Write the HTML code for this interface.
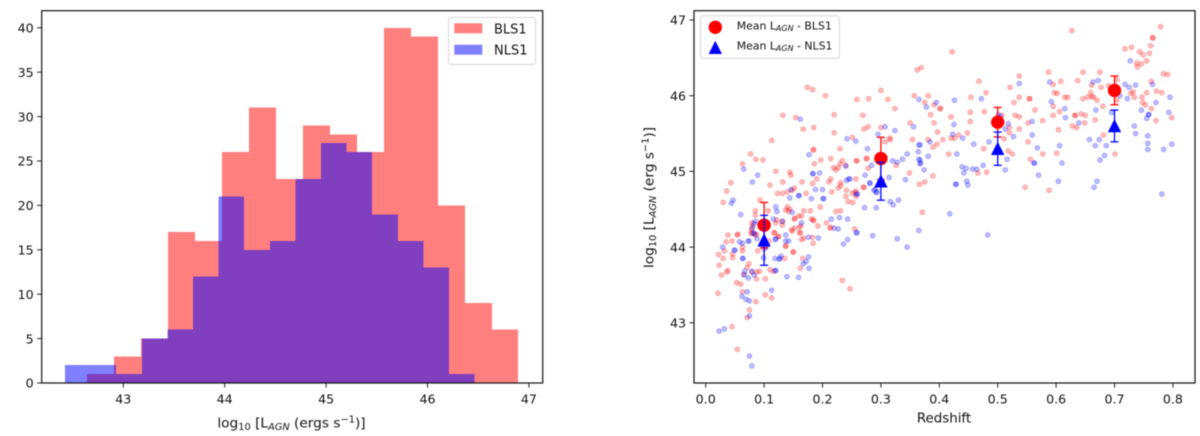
<!DOCTYPE html>
<html lang="en">
<head>
<meta charset="utf-8">
<title>AGN luminosity histogram and redshift scatter</title>
<style>
html,body{margin:0;padding:0;background:#fff;width:1200px;height:436px;overflow:hidden}
svg{display:block;filter:blur(0.5px)}
text{font-family:"DejaVu Sans","Liberation Sans",sans-serif;fill:#111}
</style>
</head>
<body>
<svg id="figure" xmlns="http://www.w3.org/2000/svg" width="1200" height="436" viewBox="0 0 1200 436">
  <rect width="1200" height="436" fill="#fff"/>
  <g id="hist-marks"></g>
  <g id="hist-axes"></g>
  <text x="291.5" y="427.5" font-size="13.7" text-anchor="middle">log<tspan font-size="9.8" dy="2.5">10</tspan><tspan dy="-2.5"> [L</tspan><tspan font-size="9.8" font-style="italic" dy="2.5">AGN</tspan><tspan dy="-2.5"> (ergs s</tspan><tspan font-size="9.8" dy="-5">−1</tspan><tspan dy="5">)]</tspan></text>
  <g>
    <rect x="448.5" y="17.5" width="87" height="47" rx="2.5" fill="#fff" fill-opacity="0.8" stroke="#d6d6d6" stroke-width="1"/>
    <rect x="454.3" y="23.3" width="28" height="10" fill="#ff8080"/>
    <text x="494" y="33.7" font-size="13">BLS1</text>
    <rect x="454.3" y="44.7" width="28" height="10" fill="#8080ff"/>
    <text x="494" y="54.7" font-size="13">NLS1</text>
  </g>
  <g id="scatter-marks"></g>
  <g id="mean-marks"></g>
  <g id="scatter-axes"></g>
  <text x="944" y="422.5" font-size="13.4" text-anchor="middle">Redshift</text>
  <text transform="translate(653.5,197.5) rotate(-90)" font-size="13.7" text-anchor="middle">log<tspan font-size="9.8" dy="2.5">10</tspan><tspan dy="-2.5"> [L</tspan><tspan font-size="9.8" font-style="italic" dy="2.5">AGN</tspan><tspan dy="-2.5"> (erg s</tspan><tspan font-size="9.8" dy="-5">−1</tspan><tspan dy="5">)]</tspan></text>
  <g>
    <rect x="700.5" y="15.7" width="139" height="42.6" rx="2.5" fill="#fff" fill-opacity="0.8" stroke="#d6d6d6" stroke-width="1"/>
    <circle cx="715.3" cy="27.3" r="6.7" fill="#ff0000"/>
    <text x="736.7" y="29.5" font-size="10.9">Mean L<tspan font-size="8" font-style="italic" dy="1.5">AGN</tspan><tspan dy="-1.5"> - BLS1</tspan></text>
    <polygon points="715.3,40.7 722,54 708.6,54" fill="#0000ff"/>
    <text x="736.7" y="49.5" font-size="10.9">Mean L<tspan font-size="8" font-style="italic" dy="1.5">AGN</tspan><tspan dy="-1.5"> - NLS1</tspan></text>
  </g>
</svg>
<script>
var blsEdges = [42.642,42.908,43.175,43.441,43.707,43.973,44.24,44.506,44.772,45.038,45.305,45.571,45.837,46.103,46.37,46.636,46.892];
var blsCounts = [1,3,5,17,16,26,31,23,29,28,26,40,39,20,9,6];
var nlsEdges = [42.425,42.678,42.93,43.182,43.435,43.687,43.94,44.192,44.445,44.697,44.95,45.202,45.455,45.707,45.96,46.212,46.465];
var nlsCounts = [2,2,1,5,6,12,21,15,16,23,27,26,19,16,13,1];
var histXTicks = [43,44,45,46,47];
var histYTicks = [0,5,10,15,20,25,30,35,40];
var scatterXTicks = [0,0.1,0.2,0.3,0.4,0.5,0.6,0.7,0.8];
var scatterXLabels = ["0.0","0.1","0.2","0.3","0.4","0.5","0.6","0.7","0.8"];
var scatterYTicks = [43,44,45,46,47];

var meanRedshift = [0.1,0.3,0.5,0.7];
var meanBls = [44.29,45.17,45.65,46.07];
var meanBlsErr = [0.3,0.28,0.195,0.19];
var meanNls = [44.09,44.87,45.3,45.6];
var meanNlsErr = [0.33,0.25,0.22,0.21];

var blsPoints = [
[.021,43.39],[.045,42.95],[.054,42.65],[.071,43.07],[.075,43.17],[.086,43.28],[.102,43.37],[.113,43.33],[.053,43.53],[.06,43.51],[.063,43.41],[.027,43.63],[.036,43.67],[.038,43.69],[.023,43.76],[.03,43.85],[.022,43.9],[.032,43.95],[.046,43.86],[.046,43.91],[.063,43.95],[.035,44.07],[.045,44.08],[.038,44.16],[.054,44.16],[.074,43.78],[.071,43.73],[.065,43.64],[.079,43.67],[.087,43.58],[.087,43.67],[.092,43.68],[.102,43.58],[.11,43.7],[.116,43.68],[.135,43.85],[.15,43.93],[.166,43.85],[.162,43.72],[.234,43.56],[.247,43.45],[.089,43.95],[.137,44.01],[.148,44.21],[.152,44.25],[.162,44.19],[.168,44.12],[.184,44.05],[.183,44.13],[.192,44.28],[.207,44.32],[.213,44.25],[.255,44.24],[.185,44.35],[.181,44.37],[.152,44.37],[.163,44.28],[.117,44.19],[.124,44.14],[.12,44.32],[.122,44.36],[.131,44.29],[.079,44.32],[.078,44.23],[.078,44.19],[.087,44.17],[.096,44.3],
[.08,44.28],[.085,44.16],[.079,44.18],[.055,44.17],[.063,44.0],[.099,43.98],[.108,44.08],
[.077,45.23],[.086,45.16],[.098,45.15],[.063,45.1],[.043,44.85],[.036,44.74],[.03,44.59],[.12,45.0],[.11,44.82],[.132,44.86],[.144,44.99],[.146,44.95],[.152,44.78],[.148,44.75],[.14,44.73],[.132,44.71],[.123,44.71],[.165,44.86],[.172,44.71],[.19,44.9],[.183,44.84],[.186,45.1],[.197,45.15],[.214,45.17],[.184,45.28],[.219,45.05],[.223,45.02],[.227,45.05],[.23,45.1],[.234,45.14],[.24,45.08],[.258,45.14],[.275,45.17],[.211,44.86],[.214,44.9],[.231,44.85],[.231,44.81],[.227,44.78],[.216,44.73],[.257,44.9],[.241,44.75],[.27,44.79],[.256,44.72],[.251,44.71],[.24,44.67],[.244,44.6],[.252,44.59],[.196,44.53],[.179,44.48],[.168,44.48],[.164,44.41],[.159,44.41],[.152,44.38],[.14,44.53],[.137,44.49],[.142,44.47],[.144,44.5],[.093,44.62],[.085,44.48],[.085,44.42],[.107,44.48],[.223,44.47],[.231,44.48],[.184,44.36],[.214,44.26],[.132,44.34],[.147,44.23],[.16,44.26],[.161,44.19],[.164,44.1],[.118,44.19],[.125,44.14],[.137,44.02],[.15,43.94],
[.174,46.11],[.183,46.08],[.205,46.0],[.3,46.07],[.279,45.96],[.259,45.95],[.312,45.95],[.324,45.83],[.357,46.0],[.362,46.34],[.132,45.74],[.154,45.71],[.167,45.56],[.185,45.58],[.22,45.75],[.269,45.74],[.271,45.56],[.278,45.59],[.3,45.58],[.22,45.51],[.113,45.41],[.251,45.45],[.35,45.64],[.354,45.42],[.316,45.42],[.315,45.44],[.307,45.39],[.185,45.29],[.23,45.3],[.276,45.17],[.259,45.14],[.278,45.04],[.326,45.08],[.349,44.98],[.366,44.83],[.258,44.67],[.271,44.79],[.257,44.74],
[.627,46.86],[.422,46.58],[.779,46.91],[.765,46.77],[.766,46.76],[.762,46.66],[.718,46.62],[.729,46.64],[.743,46.58],[.749,46.54],[.76,46.56],[.755,46.46],[.738,46.43],[.746,46.42],[.739,46.38],[.369,46.37],[.784,46.29],[.791,46.28],[.537,46.26],[.587,46.31],[.646,46.31],[.675,46.31],[.637,46.2],[.608,46.19],[.595,46.15],[.468,46.19],[.763,46.19],[.521,46.11],[.661,46.14],[.677,46.11],[.704,46.21],[.69,46.13],[.659,46.04],[.48,46.04],[.597,46.04],[.602,46.03],[.732,46.05],[.728,46.03],[.755,46.04],[.772,46.06],[.781,46.04],[.381,46.0],[.454,45.98],[.537,45.98],[.554,45.96],[.555,45.96],[.615,45.98],[.62,45.98],[.646,45.96],[.654,45.98],[.661,45.99],[.664,45.98],[.67,45.94],[.734,45.98],[.747,45.98],[.704,45.94],[.375,45.91],[.391,45.88],[.401,45.83],[.402,45.83],[.528,45.91],[.748,45.91],[.753,45.88],[.595,45.86],[.564,45.81],[.763,45.83],[.68,45.86],[.453,45.78],[.477,45.79],[.606,45.79],[.385,45.75],[.42,45.72],[.53,45.74],[.537,45.72],[.595,45.74],[.632,45.74],[.633,45.74],[.643,45.76],[.65,45.74],[.798,45.71],[.507,45.74],[.453,45.66],[.391,45.64],[.552,45.64],[.577,45.67],[.667,45.68],[.771,45.67],[.649,45.64],[.628,45.6],[.635,45.58],[.52,45.58],[.537,45.56],[.604,45.55],[.52,45.51],[.397,45.52],[.448,45.51],[.433,45.48],[.426,45.44],[.42,45.44],[.406,45.42],[.381,45.42],[.396,45.36],[.389,45.32],[.511,45.43],[.552,45.39],[.681,45.48],[.476,45.3],[.518,45.27],[.525,45.23],[.556,45.16],[.577,45.23],[.601,45.24],[.416,45.23],[.701,45.23],[.389,44.94],[.481,44.99],[.466,44.98],[.375,44.86],[.371,44.46],[.547,44.79],[.588,44.75]
];

var nlsPoints = [
[.023,42.89],[.032,42.92],[.075,42.56],[.079,42.43],[.075,43.09],[.113,43.43],[.062,43.35],[.069,43.31],[.075,43.29],[.071,43.41],[.139,43.61],[.159,43.6],[.177,43.72],[.167,43.78],[.172,43.81],[.176,43.87],[.119,43.85],[.126,43.84],[.129,43.88],[.119,43.69],[.12,43.69],[.099,43.86],[.063,43.85],[.064,43.85],[.029,44.0],[.058,44.07],[.063,44.05],[.049,43.96],[.05,43.96],[.073,44.08],[.074,44.08],[.067,43.68],[.066,43.63],[.073,43.59],[.083,43.63],[.079,43.68],[.119,44.1],[.12,44.11],[.137,44.16],[.137,44.08],[.142,44.08],[.176,44.13],[.193,44.12],[.236,44.04],[.243,44.1],[.259,44.19],[.22,44.25],[.227,44.24],[.082,44.18],[.083,44.18],[.08,44.25],[.085,44.34],[.097,44.32],[.116,44.37],[.131,44.34],[.164,44.32],[.215,44.37],[.229,44.39],[.243,44.37],[.088,44.11],[.103,43.99],[.365,44.22],[.286,44.15],[.328,44.11],[.345,44.0],[.483,44.16],
[.177,45.22],[.065,45.03],[.089,44.95],[.08,44.86],[.183,44.97],[.184,44.97],[.195,44.98],[.188,44.76],[.2,44.76],[.159,44.68],[.16,44.68],[.144,44.65],[.146,44.76],[.181,44.64],[.201,44.64],[.202,44.64],[.24,45.07],[.245,44.9],[.241,44.88],[.258,44.7],[.273,44.95],[.284,45.08],[.314,44.92],[.281,44.85],[.29,44.76],[.293,44.73],[.272,44.52],[.292,44.52],[.316,44.6],[.321,44.56],[.33,44.62],[.047,44.62],[.044,44.58],[.06,44.43],[.12,44.53],[.122,44.47],[.148,44.46],
[.083,44.31],
[.162,45.69],[.242,45.43],[.257,45.4],[.295,45.49],[.307,45.59],[.324,45.54],[.356,45.59],[.365,45.95],[.277,45.3],[.337,45.16],[.345,45.23],[.365,45.35],[.364,45.26],[.328,45.12],[.32,45.14],[.368,45.11],[.365,45.16],[.342,44.89],[.247,44.9],
[.727,46.46],[.672,46.2],[.663,46.18],[.589,46.18],[.537,46.16],[.718,46.15],[.725,46.11],[.736,46.14],[.765,46.15],[.472,45.96],[.395,45.91],[.426,45.94],[.378,45.85],[.592,45.92],[.722,45.96],[.709,46.0],[.705,46.05],[.706,46.05],[.795,45.98],[.771,45.91],[.615,45.83],[.668,45.81],[.746,45.81],[.616,45.71],[.758,45.75],[.759,45.75],[.755,45.7],[.793,45.78],[.695,45.78],[.559,45.66],[.639,45.64],[.425,45.62],[.734,45.6],[.736,45.5],[.757,45.47],[.757,45.37],[.757,45.29],[.423,45.49],[.44,45.44],[.459,45.36],[.485,45.39],[.501,45.75],[.505,45.72],[.518,45.63],[.513,45.56],[.527,45.46],[.559,45.48],[.657,45.42],[.674,45.42],[.667,45.34],[.686,45.34],[.798,45.36],[.784,45.29],[.606,45.34],[.568,45.31],[.516,45.16],[.562,45.11],[.563,45.11],[.61,45.11],[.683,45.21],[.675,45.15],[.57,44.95],[.513,45.02],[.475,45.08],[.439,45.06],[.446,45.04],[.457,45.03],[.464,45.03],[.442,44.98],[.447,44.87],[.449,44.82],[.428,44.83],[.429,44.83],[.381,45.2],[.367,45.15],[.367,45.1],[.374,45.02],[.43,45.23],[.367,45.35],[.604,44.87],[.67,44.87],[.665,44.79],[.781,44.7],[.418,44.44],[.384,45.39],[.288,44.75],[.292,44.72],[.281,44.84],[.26,44.7],
[.258,44.19],[.127,43.85]
];

var NS = 'http://www.w3.org/2000/svg';
function make(tag, attrs, parent) {
  var el = document.createElementNS(NS, tag);
  for (var k in attrs) { el.setAttribute(k, attrs[k]); }
  parent.appendChild(el);
  return el;
}

/* axis functions */
function histX(v) { return 123.3 + (v - 43) * 101.4; }
function histY(v) { return 383 - v * 8.88; }
function scatX(v) { return 705.7 + v * 584; }
function scatY(v) { return 20 + (47 - v) * 75.7; }

var histMarks = document.getElementById('hist-marks');
var histAxes = document.getElementById('hist-axes');
var scatterMarks = document.getElementById('scatter-marks');
var meanMarks = document.getElementById('mean-marks');
var scatterAxes = document.getElementById('scatter-axes');

blsCounts.forEach(function (count, i) {
  var bar = make('rect', {x: histX(blsEdges[i]), y: histY(count), width: histX(blsEdges[i + 1]) - histX(blsEdges[i]), height: histY(0) - histY(count), fill: '#ff0000', 'fill-opacity': 0.5, 'shape-rendering': 'crispEdges'}, histMarks);
  
  
});
nlsCounts.forEach(function (count, i) {
  var bar = make('rect', {x: histX(nlsEdges[i]), y: histY(count), width: histX(nlsEdges[i + 1]) - histX(nlsEdges[i]), height: histY(0) - histY(count), fill: '#0000ff', 'fill-opacity': 0.5, 'shape-rendering': 'crispEdges'}, histMarks);
  
  
});

function drawFrame(parent, left, right, top, bottom) {
  var frame = make('rect', {x: left, y: top, width: right - left, height: bottom - top, fill: 'none', stroke: '#111', 'stroke-width': 1.2}, parent);
  
  
}
function xTick(parent, px, label) {
  var tick = make('line', {x1: px, x2: px, y1: 383, y2: 387.6, stroke: '#222', 'stroke-width': 1}, parent);
  
  
  var text = make('text', {x: px, y: 403.6, 'font-size': 12.6, 'text-anchor': 'middle'}, parent);
  text.textContent = label;
  
  
}
function yTick(parent, px, axisLeft, label) {
  var tick = make('line', {x1: axisLeft - 4.6, x2: axisLeft, y1: px, y2: px, stroke: '#222', 'stroke-width': 1}, parent);
  
  
  var text = make('text', {x: axisLeft - 8, y: px + 4.7, 'font-size': 12.6, 'text-anchor': 'end'}, parent);
  text.textContent = label;
  
  
}

drawFrame(histAxes, 41.7, 542.7, 10.7, 383);
histXTicks.forEach(function (t) { xTick(histAxes, histX(t), String(t)); });
histYTicks.forEach(function (t) { yTick(histAxes, histY(t), 41.7, String(t)); });

function drawPoints(points, color, name) {
  points.forEach(function (p) {
    var dot = make('circle', {cx: scatX(p[0]), cy: scatY(p[1]), r: 2.3, fill: color, 'fill-opacity': 0.24, stroke: color, 'stroke-opacity': 0.3, 'stroke-width': 1}, scatterMarks);
    
    
  });
}
drawPoints(blsPoints, '#ff0000', 'bls1-scatter-point');
drawPoints(nlsPoints, '#0000ff', 'nls1-scatter-point');

function drawError(z, value, err, color, name) {
  var g = make('g', {stroke: color, 'stroke-width': 1.3, fill: 'none'}, meanMarks);
  
  
  var cx = scatX(z), top = scatY(value + err), bottom = scatY(value - err);
  make('line', {x1: cx, x2: cx, y1: top, y2: bottom}, g);
  make('line', {x1: cx - 4, x2: cx + 4, y1: top, y2: top}, g);
  make('line', {x1: cx - 4, x2: cx + 4, y1: bottom, y2: bottom}, g);
}
meanRedshift.forEach(function (z, i) {
  drawError(z, meanBls[i], meanBlsErr[i], '#ff0000', 'mean-bls1-error-bar');
  var c = make('circle', {cx: scatX(z), cy: scatY(meanBls[i]), r: 6.7, fill: '#ff0000'}, meanMarks);
  
  
});
meanRedshift.forEach(function (z, i) {
  drawError(z, meanNls[i], meanNlsErr[i], '#0000ff', 'mean-nls1-error-bar');
  var cx = scatX(z), cy = scatY(meanNls[i]);
  var t = make('polygon', {points: cx + ',' + (cy - 7) + ' ' + (cx + 6.7) + ',' + (cy + 6.3) + ' ' + (cx - 6.7) + ',' + (cy + 6.3), fill: '#0000ff'}, meanMarks);
  
  
});

drawFrame(scatterAxes, 694, 1195, 10.7, 383);
scatterXTicks.forEach(function (t, i) { xTick(scatterAxes, scatX(t), scatterXLabels[i]); });
scatterYTicks.forEach(function (t) { yTick(scatterAxes, scatY(t), 694, String(t)); });
</script>
</body>
</html>
